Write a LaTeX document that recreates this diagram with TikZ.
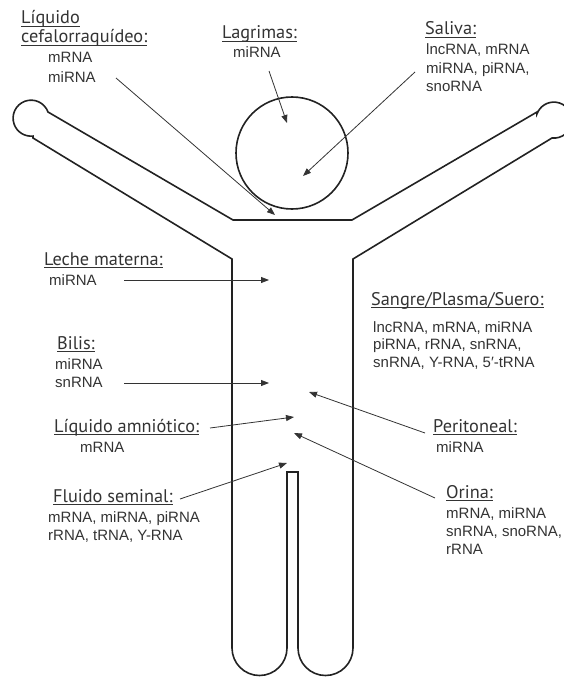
\documentclass[tikz,border=0pt]{standalone}
\usepackage{fontspec}
\setmainfont{Liberation Sans}
\newfontfamily\hdfont{PT Sans}
\usetikzlibrary{arrows.meta}
\definecolor{ink}{HTML}{222222}
\definecolor{txt}{HTML}{333333}
% underlined heading with a fixed rule offset
\newcommand\hdline[1]{\setbox0\hbox{#1}\rlap{\rule[-2.6pt]{\wd0}{0.8pt}}\box0}
% stacked lines whose reference point is the first baseline
\newcommand\stack[1]{\begin{tabular}[t]{@{}l@{}}#1\end{tabular}}
\begin{document}
\begin{tikzpicture}[x=1pt,y=-1pt,
  body/.style={draw=ink,line width=1.6pt,line join=miter},
  pointer/.style={draw=txt,line width=0.8pt,-{Triangle[length=8pt,width=6pt]}},
  hd/.style={anchor=base west,inner sep=0pt,font=\hdfont\fontsize{18.3}{19}\selectfont,text=txt},
  items/.style={anchor=base west,inner sep=0pt,font=\fontsize{15}{#1}\selectfont,text=txt},
  items/.default=18]
\useasboundingbox (0,0) rectangle (564,677);

% head
\draw[body] (292,153) circle[radius=56];

% outline of body, arms, hands and legs
\draw[body] (33,138) -- (232,259) -- (232,648)
  arc[start angle=180,end angle=0,radius=27.5]
  -- (287,472) -- (298,472) -- (298,648)
  arc[start angle=180,end angle=0,radius=27.5]
  -- (353,259) -- (552,138)
  arc[start angle=96,end angle=-160,radius=18] -- (537,112)
  -- (352,220) -- (233,220) -- (48,112)
  arc[start angle=-20,end angle=-276,radius=18] -- cycle;

% labels
\node[hd] (lcrH) at (21,24) {\hdline{Líquido}};
\node[hd] (lcrH2) at (21,43) {\hdline{cefalorraquídeo:}};
\node[items=20] (lcrI) at (48,63) {\stack{mRNA\\miRNA}};

\node[hd] (lagH) at (222,39) {\hdline{Lagrimas:}};
\node[items] (lagI) at (233,58) {miRNA};

\node[hd] (salH) at (425,35) {\hdline{Saliva:}};
\node[items=18.5] (salI) at (426,55) {\stack{lncRNA, mRNA\\miRNA, piRNA,\\snoRNA}};

\node[hd] (lecH) at (44,265) {\hdline{Leche materna:}};
\node[items] (lecI) at (49,285) {miRNA};

\node[hd] (bilH) at (57,349) {\hdline{Bilis:}};
\node[items] (bilI) at (55,369) {\stack{miRNA\\snRNA}};

\node[hd] (sanH) at (371,305) {\hdline{Sangre/Plasma/Suero:}};
\node[items=17.5] (sanI) at (373,332) {\stack{lncRNA, mRNA, miRNA\\piRNA, rRNA, snRNA,\\snRNA, Y-RNA, 5′-tRNA}};

\node[hd] (amnH) at (54,432) {\hdline{Líquido amniótico:}};
\node[items] (amnI) at (80,452) {mRNA};

\node[hd] (perH) at (433,432) {\hdline{Peritoneal:}};
\node[items] (perI) at (436,452) {miRNA};

\node[hd] (semH) at (53,502) {\hdline{Fluido seminal:}};
\node[items] (semI) at (48,522) {\stack{mRNA, miRNA, piRNA\\rRNA, tRNA, Y-RNA}};

\node[hd] (oriH) at (446,498) {\hdline{Orina:}};
\node[items=18.2] (oriI) at (446,518) {\stack{mRNA, miRNA\\snRNA, snoRNA,\\rRNA}};

% pointer ends
\coordinate (lcrA) at (116,78);  \coordinate (lcrB) at (275,215);
\coordinate (lagA) at (269,71);  \coordinate (lagB) at (287,123);
\coordinate (salA) at (415,72);  \coordinate (salB) at (303,176);
\coordinate (lecA) at (124,280); \coordinate (lecB) at (269,280);
\coordinate (bilA) at (124,383); \coordinate (bilB) at (269,383);
\coordinate (amnA) at (210,428); \coordinate (amnB) at (294,417);
\coordinate (perA) at (425,433); \coordinate (perB) at (309,392);
\coordinate (oriA) at (435,498); \coordinate (oriB) at (294,433);
\coordinate (semA) at (180,499); \coordinate (semB) at (287,463);

\foreach \p in {lcr,lag,sal,lec,bil,amn,per,ori,sem}
  \draw[pointer] (\p A) -- (\p B);
\end{tikzpicture}
\end{document}
